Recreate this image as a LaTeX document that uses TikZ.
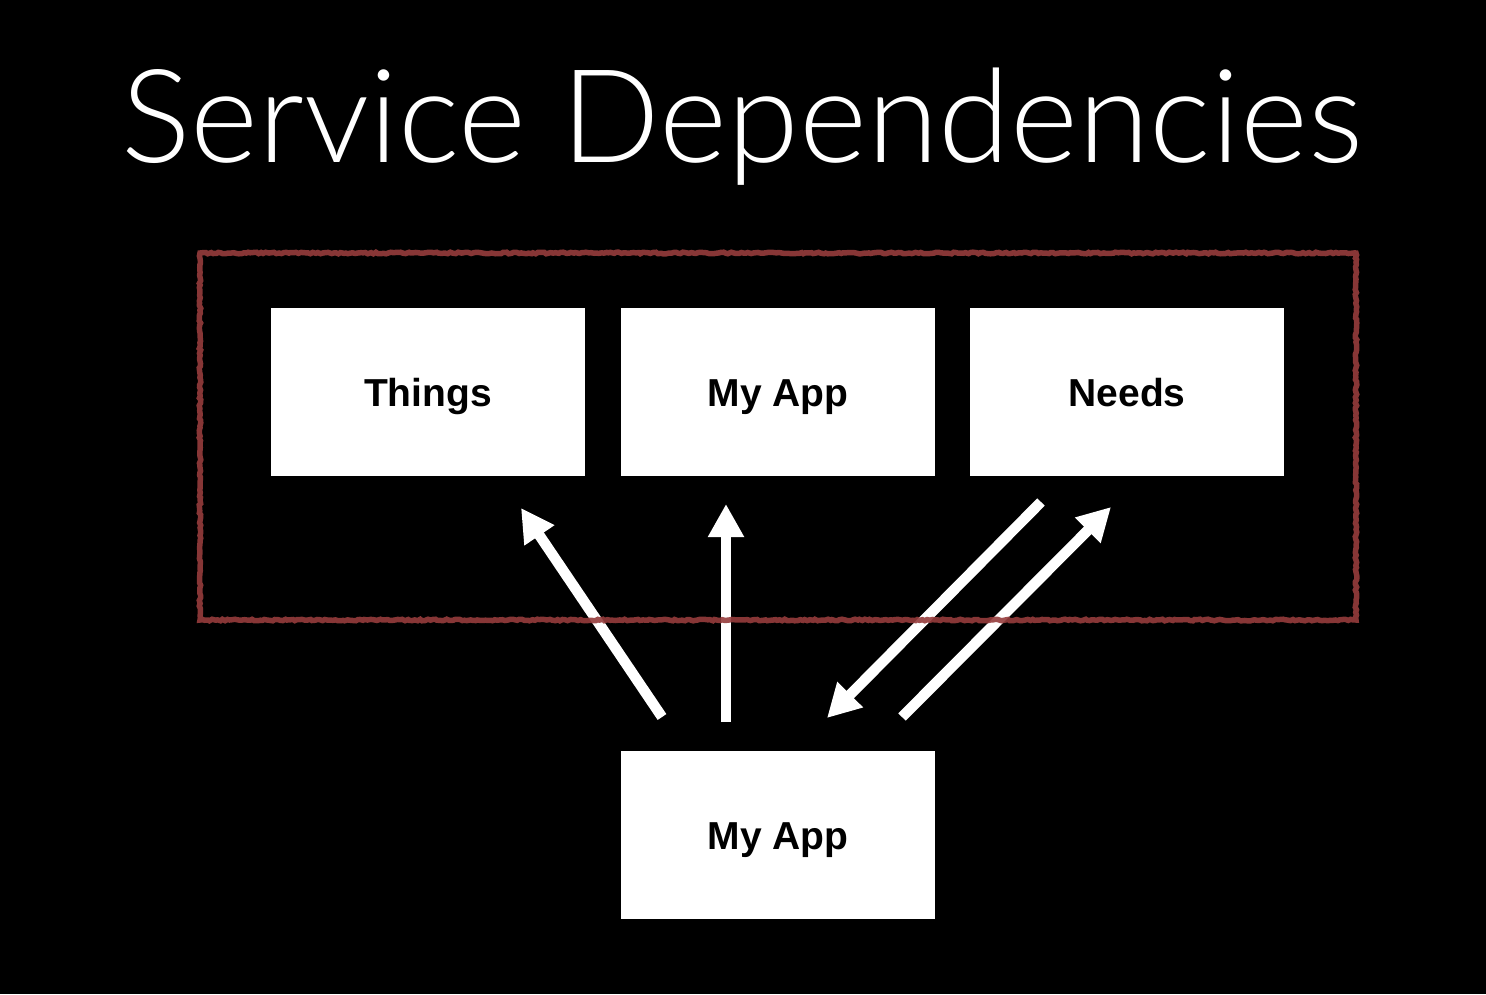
\documentclass[tikz,border=0pt]{standalone}
\usepackage{fontspec}
\setmainfont{Liberation Sans}
\newfontfamily\titlefont{Lato Light}
\usetikzlibrary{arrows.meta,decorations.pathmorphing}
\definecolor{framered}{RGB}{150,60,60}
\tikzset{
  box/.style={fill=white, minimum width=314pt, minimum height=168pt, inner sep=0pt,
    text height=29pt, text depth=0pt,
    font=\fontsize{39}{41}\selectfont\bfseries, text=black},
  bigarrow/.style={draw=white, line width=10.5pt, -{Triangle[length=33pt,width=34pt]}},
  roughframe/.style={draw=framered, line width=5.5pt, opacity=0.9,
    decorate, decoration={random steps, segment length=2.5pt, amplitude=0.8pt}},
}
\begin{document}
\begin{tikzpicture}[x=1pt,y=-1pt]
\fill[black] (0,0) rectangle (1486,994);
\useasboundingbox (0,0) rectangle (1486,994);
\node[text=white, font=\titlefont\fontsize{130}{136}\selectfont, anchor=base] (title) at (742,162) {Service Dependencies};
\node[box] (things) at (428,392) {Things};
\node[box] (myapp) at (778,392) {My App};
\node[box] (needs) at (1127,392) {Needs};
\node[box] (client) at (778,834.5) {My App};
\coordinate (a1s) at (662,717); \coordinate (a1e) at (521,508);
\coordinate (a2s) at (726,722); \coordinate (a2e) at (726,504);
\coordinate (a3s) at (1041,502); \coordinate (a3e) at (827,718);
\coordinate (a4s) at (902,717); \coordinate (a4e) at (1111,507);
\draw[bigarrow] (a1s) -- (a1e);
\draw[bigarrow] (a2s) -- (a2e);
\draw[bigarrow] (a3s) -- (a3e);
\draw[bigarrow] (a4s) -- (a4e);
\coordinate (f1) at (200,253); \coordinate (f2) at (1356,620);
\draw[roughframe] (f1) rectangle (f2);
\end{tikzpicture}
\end{document}
